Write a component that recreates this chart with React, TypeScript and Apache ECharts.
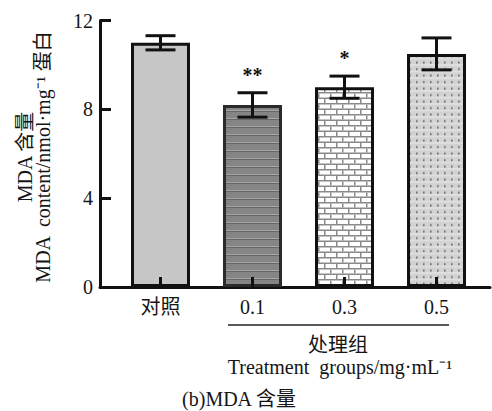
import React, { useEffect, useRef } from 'react';
import * as echarts from 'echarts';

const categories = ['对照', '0.1', '0.3', '0.5'];
const means = [11.0, 8.2, 9.0, 10.5];
const errors = [0.32, 0.55, 0.5, 0.72];
const significance = ['', '**', '*', ''];
const yMin = 0;
const yMax = 12;
const yInterval = 4;

const FONT = "'Liberation Serif', 'Noto Sans CJK SC', serif";
const TXT = '#151515';

function makePattern(w: number, h: number, draw: (ctx: CanvasRenderingContext2D) => void) {
  const c = document.createElement('canvas');
  c.width = w;
  c.height = h;
  const ctx = c.getContext('2d')!;
  draw(ctx);
  return { image: c, repeat: 'repeat', imageWidth: w, imageHeight: h } as any;
}

export default function App() {
  const ref = useRef<HTMLDivElement>(null);
  useEffect(() => {
    document.body.style.margin = '0';
    const chart = echarts.init(ref.current!, null, { renderer: 'svg' });

    const solid = '#c6c6c6';
    const stripes = makePattern(8, 8, (ctx) => {
      ctx.fillStyle = '#858585';
      ctx.fillRect(0, 0, 8, 8);
      ctx.fillStyle = '#a6a6a6';
      ctx.fillRect(0, 6, 8, 1);
      ctx.fillStyle = '#666666';
      ctx.fillRect(0, 7, 8, 1);
    });
    const bricks = makePattern(12, 11, (ctx) => {
      ctx.fillStyle = '#ffffff';
      ctx.fillRect(0, 0, 12, 11);
      ctx.fillStyle = '#8a8a8a';
      ctx.fillRect(0, 4, 12, 1.5);
      ctx.fillRect(0, 9.5, 12, 1.5);
      ctx.fillRect(0, 0, 1.5, 4);
      ctx.fillRect(6, 5.5, 1.5, 4);
    });
    const dots = makePattern(7, 6.5, (ctx) => {
      ctx.fillStyle = '#d2d2d2';
      ctx.fillRect(0, 0, 7, 6.5);
      ctx.fillStyle = '#555555';
      ctx.fillRect(3, 3, 1.6, 1.6);
    });
    const fills = [solid, stripes, bricks, dots];
    const borders = ['#111', '#2a2a2a', '#111', '#111'];

    const gridTop = 20.6;
    const gridBottom = 411 - 287;

    chart.setOption({
      animation: false,
      backgroundColor: '#ffffff',
      grid: [
        { left: 114.5, right: 9.5, top: gridTop, bottom: gridBottom },
        { left: 100, right: 2, top: gridTop, bottom: gridBottom },
      ],
      xAxis: [
        {
          type: 'category',
          gridIndex: 0,
          data: categories,
          axisLine: { show: false },
          axisTick: { show: false },
          axisLabel: { fontFamily: FONT, fontSize: 20, color: TXT, margin: 10 },
        },
        {
          type: 'value',
          gridIndex: 1,
          min: 0,
          max: 1,
          axisLine: { show: true, lineStyle: { color: '#111', width: 3 } },
          axisTick: { show: false },
          axisLabel: { show: false },
          splitLine: { show: false },
        },
      ],
      yAxis: [
        {
          type: 'value',
          gridIndex: 0,
          min: yMin,
          max: yMax,
          interval: yInterval,
          offset: 14.5,
          axisLine: { show: true, lineStyle: { color: '#111', width: 3 } },
          axisTick: { show: true, inside: true, length: 11, lineStyle: { color: '#111', width: 3 } },
          axisLabel: { fontFamily: FONT, fontSize: 20, color: TXT, margin: 7 },
          splitLine: { show: false },
        },
        { type: 'value', gridIndex: 1, show: false },
      ],
      series: [
        {
          type: 'bar',
          xAxisIndex: 0,
          yAxisIndex: 0,
          barWidth: 59,
          data: means.map((v, i) => ({
            value: v,
            itemStyle: { color: fills[i], borderColor: borders[i], borderWidth: 3 },
          })),
          z: 2,
        },
        {
          type: 'custom',
          xAxisIndex: 0,
          yAxisIndex: 0,
          z: 3,
          data: means.map((m, i) => [i, m, errors[i]]),
          renderItem: (params: any, api: any) => {
            const i = api.value(0);
            const m = api.value(1);
            const e = api.value(2);
            const top = api.coord([i, m + e]);
            const bot = api.coord([i, m - e]);
            const zero = api.coord([i, 0]);
            const stub = api.coord([i, 0.45]);
            const hw = 15;
            const st = { stroke: '#111', lineWidth: 3 };
            const children: any[] = [
              { type: 'line', shape: { x1: top[0], y1: top[1], x2: bot[0], y2: bot[1] }, style: st },
              { type: 'line', shape: { x1: top[0] - hw, y1: top[1], x2: top[0] + hw, y2: top[1] }, style: st },
              { type: 'line', shape: { x1: bot[0] - hw, y1: bot[1], x2: bot[0] + hw, y2: bot[1] }, style: st },
              { type: 'line', shape: { x1: zero[0], y1: zero[1], x2: stub[0], y2: stub[1] }, style: st },
            ];
            const sig = significance[params.dataIndex];
            if (sig) {
              children.push({
                type: 'text',
                x: top[0],
                y: top[1] - 8,
                style: {
                  text: sig,
                  fontFamily: FONT,
                  fontSize: 20,
                  fontWeight: 'bold',
                  fill: '#111',
                  align: 'center',
                  verticalAlign: 'bottom',
                },
              });
            }
            return { type: 'group', children };
          },
        },
      ],
      graphic: [
        {
          type: 'text',
          x: 25,
          y: 157,
          rotation: Math.PI / 2,
          style: { text: 'MDA 含量', fontFamily: FONT, fontSize: 20, fill: TXT, align: 'center', verticalAlign: 'middle' },
        },
        {
          type: 'text',
          x: 43,
          y: 157,
          rotation: Math.PI / 2,
          style: {
            text: 'MDA  content/nmol·mg⁻¹ 蛋白',
            fontFamily: FONT,
            fontSize: 20,
            fill: TXT,
            align: 'center',
            verticalAlign: 'middle',
          },
        },
        {
          type: 'line',
          shape: { x1: 228, y1: 325, x2: 449, y2: 325 },
          style: { stroke: '#222', lineWidth: 1.5 },
        },
        {
          type: 'text',
          x: 338,
          y: 345,
          style: { text: '处理组', fontFamily: FONT, fontSize: 20, fill: TXT, align: 'center', verticalAlign: 'middle' },
        },
        {
          type: 'text',
          x: 340,
          y: 367,
          style: {
            text: 'Treatment  groups/mg·mL⁻¹',
            fontFamily: FONT,
            fontSize: 20,
            fill: TXT,
            align: 'center',
            verticalAlign: 'middle',
          },
        },
        {
          type: 'text',
          x: 239,
          y: 399,
          style: { text: '(b)MDA 含量', fontFamily: FONT, fontSize: 20, fill: TXT, align: 'center', verticalAlign: 'middle' },
        },
      ],
    });
    return () => chart.dispose();
  }, []);
  return <div ref={ref} style={{ width: 492, height: 411 }} />;
}
